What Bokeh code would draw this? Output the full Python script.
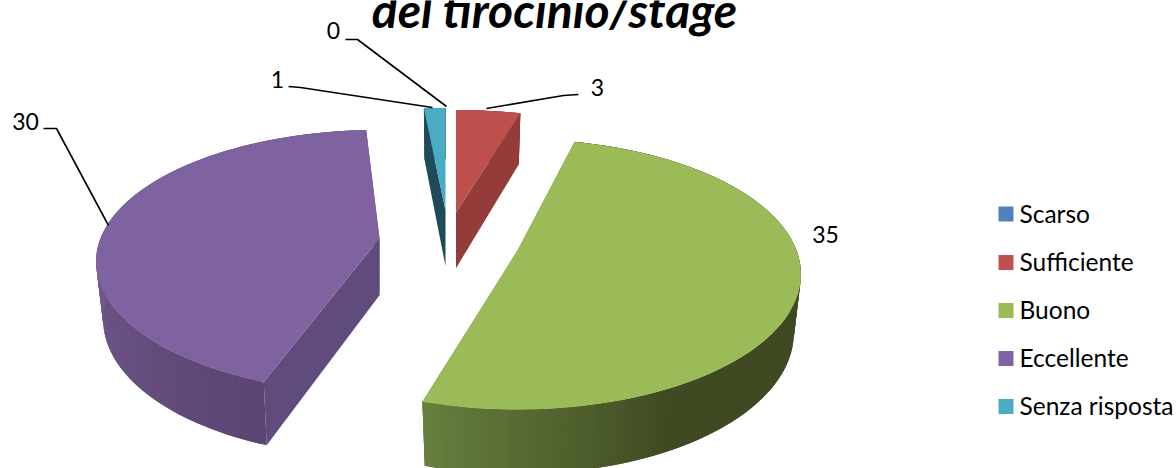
import math
from bokeh.plotting import figure
from bokeh.core.properties import value
from bokeh.embed import file_html
from bokeh.resources import INLINE

TITLE = "del tirocinio/stage"
CATEGORIES = ["Scarso", "Sufficiente", "Buono", "Eccellente", "Senza risposta"]
VALUES = [0, 3, 35, 30, 1]
COLORS = ["#4f81bd", "#c0504d", "#9bbb59", "#8064a2", "#4bacc6"]
FACE_COLORS = ["#4f81bd", "#bd4f4c", "#9bbb59", "#7f62a0", "#4aabc5"]
CUT_COLORS = ["#3a6090", "#943c3a", "#5f7a36", "#5f4b7c", "#1f4a57"]
WALL_FROM = ["#3a6090", "#943c3a", "#3f4a22", "#5b4572", "#1f4a57"]   # clockwise start
WALL_TO = ["#3a6090", "#943c3a", "#677f3e", "#73598f", "#1f4a57"]     # clockwise end
WALL_RAMP = [(0, 1), (0, 1), (0.76, 1), (0, 0.45), (0, 1)]

# layout: where each slice's apex landed after the explosion, projection constants
APEX_X = [450, 455.5, 517, 379, 445]
APEX_Y = [212, 212, 250, 238, 210]
ROTATE_DEG = [0, 0, -1.8, 2, 0]
SCALE_Y = [1, 0.92, 1, 0.975, 0.92]
RX, RY, PERSP, BOTTOM_SCALE = 279, 131, 0.176, 0.975
DEPTH_BASE, DEPTH_SLOPE, DEPTH_Y0 = 51, 0.045, 108

# leader lines and labels
LABELS = ["0", "3", "35", "30", "1"]
LABEL_X = [333, 597, 825, 25, 277]
LABEL_Y = [30, 87, 234, 121, 79]
LEADERS_X = [[345, 357, 446], [578, 563, 486], [], [43, 56, 108], [288, 300, 432]]
LEADERS_Y = [[39, 39, 106], [94, 95, 108], [], [128, 128, 225], [86, 87, 107]]

LEGEND_X = 998
LEGEND_Y = [213.5, 262, 310, 358, 406]


def hex2rgb(c):
    return [int(c[i:i + 2], 16) for i in (1, 3, 5)]


def mix(a, b, t):
    a, b = hex2rgb(a), hex2rgb(b)
    return "#%02x%02x%02x" % tuple(round(a[i] + (b[i] - a[i]) * t) for i in range(3))


def project(theta):
    x, y = math.sin(theta), math.cos(theta)
    s = 1 / (1 + PERSP * y)
    return RX * x * s, -RY * y * s


def depth(y):
    return DEPTH_BASE + DEPTH_SLOPE * (y - DEPTH_Y0)


p = figure(width=1176, height=468, x_range=(0, 1176), y_range=(468, 0),
           output_backend="svg", toolbar_location=None, min_border=0,
           x_axis_type=None, y_axis_type=None, outline_line_color=None)
p.grid.visible = False
p.background_fill_color = "white"
p.border_fill_color = "white"

total = sum(VALUES)
spans = []
a = 0.0
for v in VALUES:
    b = a + v / total * 2 * math.pi
    spans.append((a, b))
    a = b

order = [1, 4, 3, 2]  # back to front
for i in order:
    rot = math.radians(ROTATE_DEG[i])
    start, end = spans[i][0] + rot, spans[i][1] + rot
    ax, ay = APEX_X[i], APEX_Y[i]
    n = max(6, int((end - start) * 50))
    thetas = [start + (end - start) * k / n for k in range(n + 1)]
    rim = [project(t) for t in thetas]
    rim = [(x, y * SCALE_Y[i]) for x, y in rim]
    top = [(ax + x, ay + y) for x, y in rim]
    bot = [(ax + x * BOTTOM_SCALE, ay + y + depth(ay + y)) for x, y in rim]
    ab = (ax, ay + depth(ay))

    # cut faces
    for q_top, q_bot in ((top[0], bot[0]), (top[-1], bot[-1])):
        p.patch([q_top[0], ax, ab[0], q_bot[0]], [q_top[1], ay, ab[1], q_bot[1]],
                fill_color=CUT_COLORS[i], line_color=None)

    # outer wall as overlapping shaded strips, so no seams appear
    r0, r1 = WALL_RAMP[i]
    for k in range(n):
        t = (k + 0.5) / n
        u = min(1.0, max(0.0, (t - r0) / (r1 - r0)))
        col = mix(WALL_FROM[i], WALL_TO[i], u)
        j = min(n, k + 2)
        p.patch([top[k][0], top[j][0], bot[j][0], bot[k][0]],
                [top[k][1], top[j][1], bot[j][1], bot[k][1]],
                fill_color=col, line_color=None)

    # top face
    p.patch([ax] + [q[0] for q in top], [ay] + [q[1] for q in top],
            fill_color=FACE_COLORS[i], line_color=None)

for xs, ys in zip(LEADERS_X, LEADERS_Y):
    if xs:
        p.line(xs, ys, line_color="black", line_width=1.6)

p.text(LABEL_X, LABEL_Y, text=LABELS, text_font=value("Lato"), text_font_size="23px",
       text_color="#000000", text_align="center", text_baseline="middle")

p.rect([LEGEND_X + 7.5] * 5, LEGEND_Y, width=15, height=15, fill_color=COLORS, line_color=None)
p.text([LEGEND_X + 21] * 5, [y - 1 for y in LEGEND_Y], text=CATEGORIES, text_font=value("Lato"),
       text_font_size="24.5px", text_color="#000000", text_align="left", text_baseline="middle")

p.text([554], [9], text=[TITLE], text_font=value("Lato"), text_font_size="48px",
       text_font_style="bold italic", text_color="#000000", text_align="center",
       text_baseline="middle")

open("out.html", "w").write(file_html(p, INLINE))
